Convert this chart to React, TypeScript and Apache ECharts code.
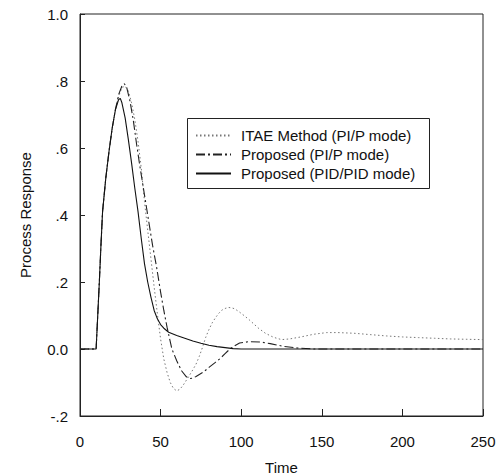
import React, { useEffect, useRef } from "react";
import * as echarts from "echarts";

const seriesNames = ["ITAE Method (PI/P mode)", "Proposed (PI/P mode)", "Proposed (PID/PID mode)"];

const itaeTime = [0,10,11,12,13,14,15,16,18,20,22,24,26,28,30,32,34,36,38,40,42,44,46,48,50,52,54,56,58,60,62,64,66,68,70,72,74,76,78,80,82,84,86,88,90,92,94,96,99,102,105,108,111,115,120,125,130,137,145,153,160,170,180,190,200,210,220,230,240,250];
const itaeValue = [0,0,0.1,0.2,0.31,0.41,0.46,0.51,0.59,0.66,0.715,0.755,0.78,0.785,0.77,0.735,0.685,0.62,0.54,0.44,0.355,0.27,0.185,0.105,0.03,-0.03,-0.07,-0.1,-0.118,-0.125,-0.12,-0.108,-0.093,-0.078,-0.062,-0.045,-0.022,0.005,0.035,0.058,0.078,0.093,0.106,0.116,0.121,0.124,0.123,0.12,0.11,0.099,0.087,0.074,0.061,0.047,0.035,0.028,0.03,0.036,0.044,0.049,0.049,0.047,0.043,0.039,0.036,0.034,0.032,0.03,0.029,0.028];

const piTime = [0,10,11,12,13,14,15,16,18,20,22,24,26,27.5,29,31,33,35,37,39,41,43,45,47.5,50,52,54,57,60,63,66,68,70,72,76.5,80,84,87,90,93,96,99,105,112,118,126,135,145,250];
const piValue = [0,0,0.1,0.2,0.31,0.41,0.46,0.51,0.59,0.66,0.715,0.76,0.785,0.792,0.78,0.74,0.685,0.615,0.55,0.49,0.43,0.37,0.31,0.245,0.17,0.115,0.065,0,-0.035,-0.065,-0.083,-0.088,-0.087,-0.082,-0.069,-0.055,-0.04,-0.028,-0.014,0,0.01,0.018,0.022,0.021,0.016,0.008,0.003,0,0];

const pidTime = [0,10,11,12,13,14,15,16,18,20,22,24,25,26,28,30,32,34,36,38,40,42,44,46,48,50,52,55,60,65,70,75,80,85,90,95,100,150,200,250];
const pidValue = [0,0,0.1,0.2,0.31,0.41,0.46,0.51,0.59,0.66,0.715,0.745,0.748,0.735,0.69,0.625,0.555,0.48,0.41,0.33,0.255,0.2,0.155,0.115,0.09,0.073,0.062,0.05,0.04,0.032,0.024,0.017,0.011,0.007,0.004,0.001,0,0,0,0];

const xTicks = { min: 0, max: 250, interval: 50 };
const yTicks = { min: -0.2, max: 1.0, interval: 0.2 };

const FONT = "'Liberation Sans', Arial, sans-serif";

function zip(t: number[], v: number[]) {
  return t.map((x, i) => [x, v[i]]);
}

export default function App() {
  const ref = useRef<HTMLDivElement>(null);
  useEffect(() => {
    document.body.style.margin = "0";
    if (!ref.current) return;
    const chart = echarts.init(ref.current, undefined, { renderer: "svg" });
    const fmtY = (v: number) => {
      if (Math.abs(v) < 1e-9) return "0.0";
      if (Math.abs(v - 1) < 1e-9) return "1.0";
      return v.toFixed(1).replace("0.", ".");
    };
    chart.setOption({
      animation: false,
      backgroundColor: "#ffffff",
      textStyle: { fontFamily: FONT },
      grid: {
        left: 80, right: 21, top: 14, bottom: 59,
        outerBoundsMode: "none",
        containLabel: false,
        show: true, borderColor: "#222", borderWidth: 1, backgroundColor: "transparent",
      },
      xAxis: {
        type: "value",
        ...xTicks,
        name: "Time",
        nameLocation: "middle",
        nameGap: 44,
        nameTextStyle: { fontSize: 15, color: "#111", fontFamily: FONT },
        axisLine: { show: true, onZero: false, lineStyle: { color: "#222", width: 1 } },
        axisTick: { show: true, inside: true, length: 7, lineStyle: { color: "#222" } },
        axisLabel: { fontSize: 15, color: "#111", margin: 18, fontFamily: FONT },
        splitLine: { show: false },
      },
      yAxis: {
        type: "value",
        ...yTicks,
        name: "Process Response",
        nameLocation: "middle",
        nameGap: 47,
        nameTextStyle: { fontSize: 15, color: "#111", fontFamily: FONT },
        axisLine: { show: true, onZero: false, lineStyle: { color: "#222", width: 1 } },
        axisTick: { show: true, inside: true, length: 5, lineStyle: { color: "#222" } },
        axisLabel: { fontSize: 15, color: "#111", margin: 12, formatter: fmtY, fontFamily: FONT },
        splitLine: { show: false },
      },
      legend: {
        left: 195,
        top: 128,
        orient: "vertical",
        itemWidth: 35,
        itemHeight: 15,
        itemGap: 4,
        padding: 0,
        data: seriesNames,
        itemStyle: { opacity: 0, borderWidth: 0 },
        textStyle: { fontSize: 15, color: "#111", fontFamily: FONT, padding: [0, 0, 0, 5] },
      },
      graphic: [
        {
          type: "rect",
          left: 187,
          top: 118,
          z: 3,
          shape: { width: 242, height: 70 },
          style: { fill: "#ffffff", stroke: "#222", lineWidth: 1 },
        },
      ],
      series: [
        {
          name: seriesNames[0],
          type: "line",
          data: zip(itaeTime, itaeValue),
          symbol: "none",
          lineStyle: { color: "#777", width: 1, type: [1.5, 2.5] },
          itemStyle: { color: "#777" },
          z: 2,
        },
        {
          name: seriesNames[1],
          type: "line",
          data: zip(piTime, piValue),
          symbol: "none",
          lineStyle: { color: "#222", width: 1.1, type: [9, 3, 2, 3] },
          itemStyle: { color: "#222" },
          z: 2,
        },
        {
          name: seriesNames[2],
          type: "line",
          data: zip(pidTime, pidValue),
          symbol: "none",
          lineStyle: { color: "#111", width: 1.1, type: "solid" },
          itemStyle: { color: "#111" },
          z: 2,
        },
      ],
    });
    return () => chart.dispose();
  }, []);
  return <div ref={ref} style={{ width: 504, height: 475 }} />;
}
